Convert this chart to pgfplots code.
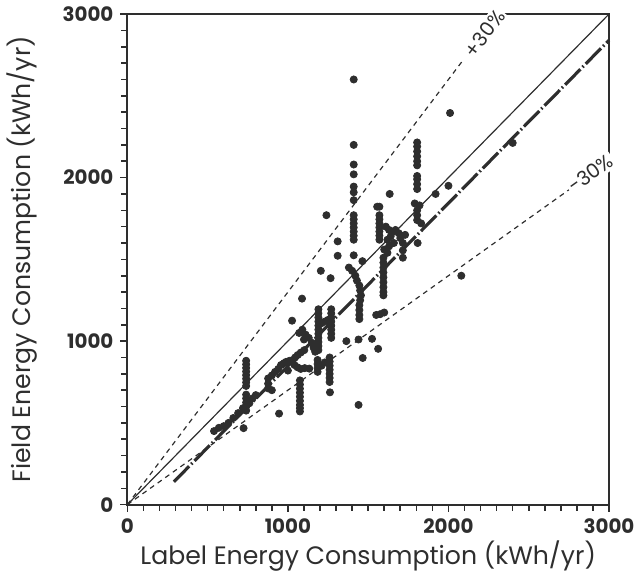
\documentclass[border=0pt]{standalone}
\usepackage{pgfplots}
\pgfplotsset{compat=1.18}
\usepackage{fontspec}
\setmainfont{Poppins}
\definecolor{ink}{HTML}{2E2E2E}
\begin{document}
\begin{tikzpicture}
\begin{axis}[
  scale only axis,
  width=243pt, height=247.5pt,
  xmin=0, xmax=3000, ymin=0, ymax=3000,
  xtick={0,1000,2000,3000}, ytick={0,1000,2000,3000},
  minor tick num=9,
  tick pos=left, tick align=outside,
  major tick length=3.5pt, minor tick length=3pt,
  tick style={line width=0.8pt, color=ink},
  axis line style={line width=1pt, color=ink},
  /pgf/number format/assume math mode=true,
  /pgf/number format/1000 sep={},
  ticklabel style={font=\fontsize{10}{12}\selectfont\bfseries, color=ink},
  xlabel={Label Energy Consumption (kWh/yr)},
  ylabel={Field Energy Consumption (kWh/yr)},
  label style={font=\fontsize{12.7}{14}\selectfont, color=ink},
  xlabel shift=-3pt,
  ylabel shift=6pt,
  clip=false,
]
% reference lines
\addplot[ink, line width=0.6pt] coordinates {(0,0) (3000,3000)};
\addplot[ink, line width=0.6pt, dash pattern=on 2.5pt off 2.2pt] coordinates {(0,0) (2090,2717)};
\addplot[ink, line width=0.6pt, dash pattern=on 2.5pt off 2.2pt] coordinates {(0,0) (2760,1932)};
% regression line
\addplot[ink, line width=1.6pt, dash pattern=on 11pt off 1.5pt on 0.8pt off 1.5pt] coordinates {(290,140) (3000,2840)};
% data
\addplot[only marks, mark=*, mark size=1.8pt, color=ink] table {
x y
1410 2600
1410 2200
1410 2080
1410 2020
1410 1945
1410 1910
1410 1862
1410 1770
1410 1745
1410 1720
1410 1695
1410 1670
1410 1645
1410 1620
1410 1525
1380 1450
1400 1430
1420 1400
1430 1370
1445 1340
1450 1310
1455 1280
1450 1250
1445 1220
1445 1190
1445 1160
1445 1135
1464 1489
1570 1822
1570 1770
1570 1745
1570 1720
1570 1695
1570 1670
1570 1645
1570 1620
1610 1700
1630 1680
1650 1665
1670 1680
1690 1660
1640 1640
1620 1620
1600 1560
1630 1580
1660 1600
1700 1630
1730 1650
1620 1540
1595 1510
1595 1480
1595 1450
1595 1420
1595 1390
1595 1360
1595 1330
1595 1300
1595 1280
1716 1600
1716 1555
1716 1510
1808 1600
1550 1160
1575 1165
1600 1175
1805 2215
1805 2190
1805 2160
1805 2130
1805 2100
1805 2075
1805 2010
1805 1990
1805 1960
1805 1930
1790 1842
1820 1830
1805 1800
1805 1770
1805 1740
1830 1720
1634 1900
1556 1822
1920 1900
2000 1950
2010 2395
2400 2212
2080 1400
1240 1770
1310 1610
1310 1522
1205 1430
1266 1385
1364 1000
1440 1010
1524 1014
1562 953
1466 897
1440 610
1262 687
945 557
724 468
1190 1195
1190 1170
1190 1145
1190 1120
1190 1095
1190 1070
1190 1045
1190 1020
1190 995
1190 970
1190 945
1270 1195
1270 1170
1270 1145
1270 1120
1270 1095
1270 1070
1270 1045
1270 1020
1210 1110
1230 1120
1250 1130
1185 885
1185 860
1185 835
1185 812
1260 900
1260 875
1260 850
1260 825
1260 800
1260 775
1260 750
1150 990
1160 960
1170 935
1130 1020
1110 1040
1090 1070
1070 1050
1100 1010
1230 870
1210 850
1075 760
1075 735
1075 710
1075 685
1075 660
1075 635
1075 610
1075 590
1075 570
1088 1260
1026 1125
877 711
877 740
877 772
900 790
920 812
940 830
957 854
975 865
988 873
1010 880
1031 885
1045 900
1061 915
1080 930
1102 945
1041 854
1060 840
1080 830
1105 835
1133 832
1000 820
900 700
740 880
740 858
740 836
740 814
740 792
740 770
740 748
740 726
740 673
740 650
740 625
740 600
740 575
540 450
570 470
600 480
630 500
660 530
690 560
720 590
760 620
780 650
800 670
};
\node[rotate=53, fill=white, inner sep=1pt, font=\fontsize{10}{12}\selectfont, text=ink] at (axis cs:2225,2880) {+30\%};
\node[rotate=35.5, fill=white, inner sep=1pt, font=\fontsize{10}{12}\selectfont, text=ink] at (axis cs:2885,2025) {-30\%};
\end{axis}
\end{tikzpicture}
\end{document}
